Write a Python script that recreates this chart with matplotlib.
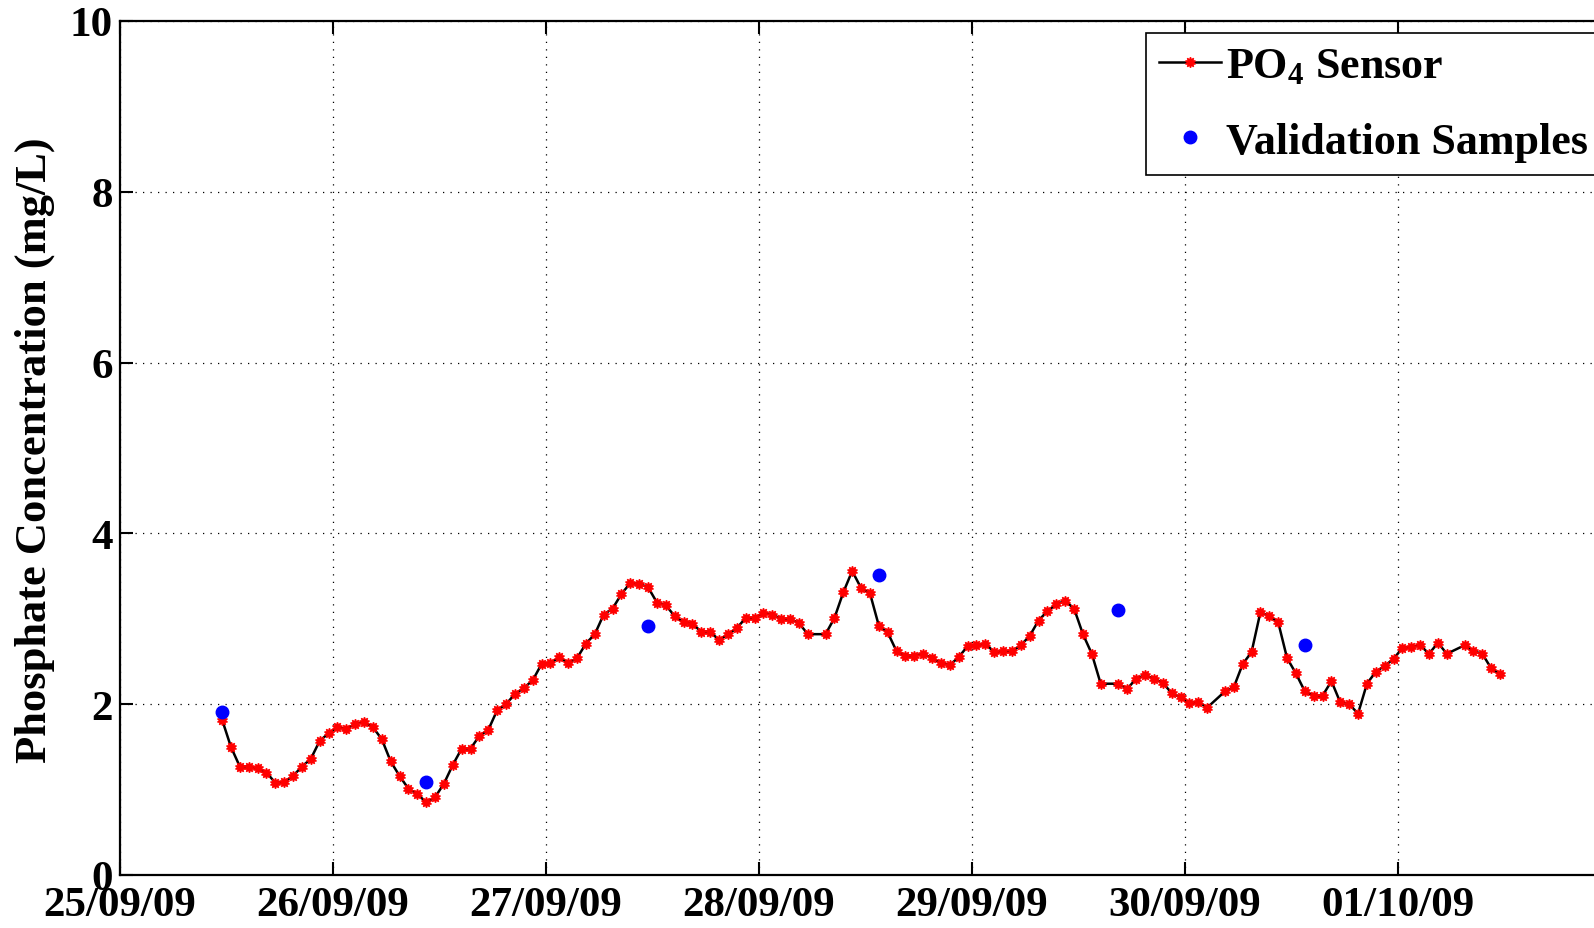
import datetime as dt
import numpy as np
import matplotlib
matplotlib.use("Agg")
import matplotlib.pyplot as plt
import matplotlib.dates as mdates

plt.rcParams['font.family'] = ['Liberation Serif', 'DejaVu Serif']
plt.rcParams['font.weight'] = 'bold'
plt.rcParams['mathtext.fontset'] = 'custom'
plt.rcParams['mathtext.rm'] = 'Liberation Serif:bold'
plt.rcParams['mathtext.bf'] = 'Liberation Serif:bold'
plt.rcParams['mathtext.default'] = 'bf'

# hourly sensor readings from 25/09/09 11:30, None = missing hour
sensor_start = dt.datetime(2009, 9, 25, 11, 30)
sensor_po4 = [
    1.82, 1.50, 1.27, 1.27, 1.25, 1.20, 1.08, 1.09, 1.16, 1.27,
    1.36, 1.57, 1.66, 1.73, 1.71, 1.77, 1.79, 1.73, 1.59, 1.33,
    1.16, 1.01, 0.95, 0.85, 0.91, 1.07, 1.29, 1.48, 1.48, 1.63,
    1.70, 1.93, 2.00, 2.12, 2.19, 2.28, 2.47, 2.48, 2.55, 2.48,
    2.54, 2.71, 2.82, 3.05, 3.12, 3.29, 3.42, 3.41, 3.37, 3.19,
    3.16, 3.03, 2.96, 2.94, 2.85, 2.85, 2.75, 2.82, 2.89, 3.01,
    3.01, 3.07, 3.05, 3.00, 3.00, 2.95, 2.82, None, 2.82, 3.01,
    3.31, 3.56, 3.36, 3.30, 2.92, 2.84, 2.62, 2.57, 2.57, 2.59,
    2.54, 2.48, 2.46, 2.55, 2.68, 2.69, 2.71, 2.61, 2.62, 2.62,
    2.69, 2.80, 2.98, 3.09, 3.17, 3.21, 3.12, 2.82, 2.59, 2.24,
    None, 2.24, 2.18, 2.30, 2.34, 2.30, 2.25, 2.13, 2.08, 2.01,
    2.03, 1.96, None, 2.15, 2.20, 2.47, 2.61, 3.08, 3.03, 2.96,
    2.54, 2.36, 2.15, 2.10, 2.10, 2.27, 2.02, 2.00, 1.89, 2.24,
    2.38, 2.45, 2.53, 2.66, 2.67, 2.69, 2.59, 2.72, 2.59, None,
    2.69, 2.62, 2.59, 2.42, 2.35,
]

valid_times = [
    dt.datetime(2009, 9, 25, 11, 30),
    dt.datetime(2009, 9, 26, 10, 30),
    dt.datetime(2009, 9, 27, 11, 30),
    dt.datetime(2009, 9, 28, 13, 30),
    dt.datetime(2009, 9, 29, 16, 30),
    dt.datetime(2009, 9, 30, 13, 30),
]
valid_po4 = [1.91, 1.09, 2.91, 3.51, 3.10, 2.69]

day_ticks = [dt.datetime(2009, 9, 25) + dt.timedelta(days=i) for i in range(7)]

t = []
v = []
for i, val in enumerate(sensor_po4):
    if val is not None:
        t.append(sensor_start + dt.timedelta(hours=i))
        v.append(val)

fig = plt.figure(figsize=(15.94, 9.29), dpi=100)
ax = fig.add_axes([120/1594, 53/929, 1491/1594, 854/929])

ax.plot(t, v, '-', color='k', lw=1.8, marker=(10, 1, 0), ms=7.5,
        mfc='red', mec='red', label=r'PO$_4$ Sensor', zorder=3)
ax.plot(valid_times, valid_po4, 'o', color='blue', ms=9, mec='blue',
        label='Validation Samples', zorder=4)

ax.set_xlim(dt.datetime(2009, 9, 25), dt.datetime(2009, 10, 2))
ax.set_ylim(0, 10)
ax.set_yticks([0, 2, 4, 6, 8, 10])
ax.set_xticks(day_ticks)
ax.xaxis.set_major_formatter(mdates.DateFormatter('%d/%m/%y'))

ax.grid(True, color='k', linestyle=(0, (1, 5)), linewidth=0.9)
ax.tick_params(direction='in', length=9.5, width=1.5, top=True, right=True,
               labelsize=31)
ax.tick_params(axis='x', pad=8)
ax.tick_params(axis='y', pad=5)
for s in ax.spines.values():
    s.set_linewidth(1.6)
for lab in ax.get_xticklabels() + ax.get_yticklabels():
    lab.set_fontweight('bold')

fig.text(35/1594, 0.515, 'Phosphate Concentration (mg/L)', rotation=90,
         ha='center', va='center', fontsize=32, fontweight='bold')

leg = ax.legend(loc='upper left', bbox_to_anchor=(1146/1594, 1 - 34/929),
                bbox_transform=fig.transFigure, borderaxespad=0,
                handlelength=1.4, handletextpad=0.1,
                labelspacing=0.8, borderpad=0.3, fancybox=False,
                framealpha=1, edgecolor='k', prop={'weight': 'bold', 'size': 31.8})
leg.get_frame().set_linewidth(1.2)

fig.savefig('out.png', dpi=100)
